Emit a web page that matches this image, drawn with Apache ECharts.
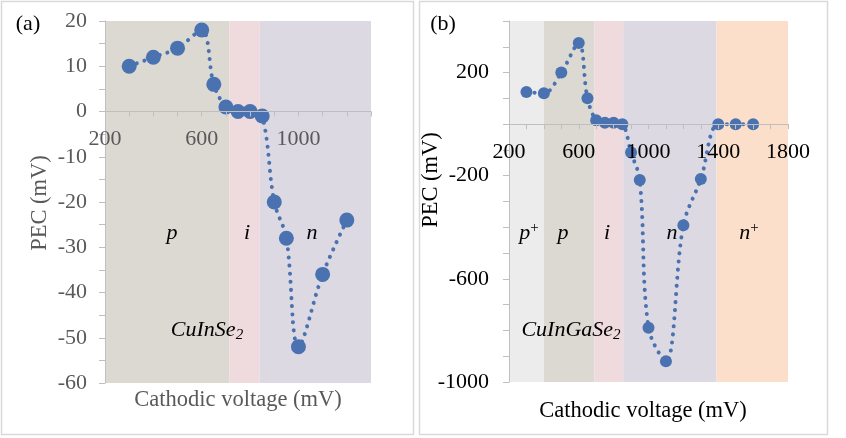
<!DOCTYPE html>
<html>
<head>
<meta charset="utf-8">
<script src="https://cdn.jsdelivr.net/npm/echarts@6/dist/echarts.min.js"></script>
<style>
  html, body { margin: 0; padding: 0; background: #fff; }
  #main { width: 846px; height: 438px; }
</style>
</head>
<body>
<div id="main"></div>
<script>
// panel (a) CuInSe2
var voltA = [300, 400, 500, 600, 650, 700, 750, 800, 850, 900, 950, 1000, 1100, 1200];
var pecA = [10, 12, 14, 18, 6, 1, 0, 0, -1, -20, -28, -52, -36, -24];
var xLabelsA = [200, 600, 1000];
var yLabelsA = [20, 10, 0, -10, -20, -30, -40, -50, -60];
var bandsA = [[200, 715, 'p'], [715, 840, 'i'], [840, 1300, 'n']];

// panel (b) CuInGaSe2
var voltB = [300, 400, 500, 600, 650, 700, 750, 800, 850, 900, 950, 1000, 1100, 1200, 1300, 1400, 1500, 1600];
var pecB = [125, 120, 200, 315, 100, 15, 5, 5, 0, -110, -217, -790, -920, -392, -213, 0, 0, 0];
var xLabelsB = [200, 600, 1000, 1400, 1800];
var yLabelsB = [200, -200, -600, -1000];
var bandsB = [[200, 400, 'p+'], [400, 690, 'p'], [690, 855, 'i'], [855, 1390, 'n'], [1390, 1800, 'n+']];

var bandColor = {
  'p+': '#ececec',
  'p': '#dcd9d3',
  'i': '#efdadd',
  'n': '#dcd9e3',
  'n+': '#fbdfca'
};

var serif = '"Liberation Serif", "DejaVu Serif", serif';
var blue = '#4a72b0';

// grid boxes
var gA = { left: 105, top: 21, width: 266, height: 362 };
var gB = { left: 509, top: 21, width: 279, height: 361 };

function bandAreas(bands) {
  return bands.map(function (b) {
    return [{ xAxis: b[0], itemStyle: { color: bandColor[b[2]] } }, { xAxis: b[1] }];
  });
}

function pairs(xs, ys) {
  return xs.map(function (x, i) { return [x, ys[i]]; });
}

// x axis sits on y = 0, moved up from the grid bottom
function zeroOffset(g, ymin, ymax) {
  return -g.height * (0 - ymin) / (ymax - ymin);
}

function mkX(idx, min, max, labels, col, off) {
  return {
    type: 'value', gridIndex: idx, min: min, max: max, interval: 100,
    position: 'bottom', offset: off, z: 10,
    axisLine: { onZero: false, lineStyle: { color: '#bfbfbf', width: 1 } },
    axisTick: { show: true, length: 5, lineStyle: { color: '#bfbfbf' } },
    splitLine: { show: false },
    axisLabel: {
      margin: 17, color: col, fontFamily: serif, fontSize: 22,
      formatter: function (v) { return labels.indexOf(v) >= 0 ? String(v) : ''; }
    }
  };
}

function mkY(idx, min, max, step, labels, col, margin) {
  return {
    type: 'value', gridIndex: idx, min: min, max: max, interval: step, z: 10,
    axisLine: { show: true, onZero: false, lineStyle: { color: '#bfbfbf', width: 1 } },
    axisTick: { show: true, length: 6, lineStyle: { color: '#bfbfbf' } },
    splitLine: { show: false },
    axisLabel: {
      margin: margin, color: col, fontFamily: serif, fontSize: 22,
      formatter: function (v) { return labels.indexOf(v) >= 0 ? String(v) : ''; }
    }
  };
}

function mkSeries(idx, data, size, bands) {
  return {
    type: 'line', xAxisIndex: idx, yAxisIndex: idx,
    data: data, smooth: 0.35,
    symbol: 'circle', symbolSize: size,
    itemStyle: { color: blue },
    lineStyle: { color: blue, width: 4, type: [0.1, 8], cap: 'round' },
    markArea: { silent: true, data: bandAreas(bands) },
    z: 3
  };
}

var rich = {
  it: { fontFamily: serif, fontStyle: 'italic', fontSize: 22, color: '#000' },
  sup: { fontFamily: serif, fontSize: 15, color: '#000', padding: [0, 0, 10, 0] },
  sub: { fontFamily: serif, fontStyle: 'italic', fontSize: 15, color: '#000', padding: [10, 0, 0, 0] }
};

function txt(x, y, s, extra) {
  var st = { text: s, x: x, y: y, align: 'center', verticalAlign: 'middle',
    fontFamily: serif, fontSize: 22, fill: '#000', rich: rich };
  for (var k in extra) st[k] = extra[k];
  return { type: 'text', style: st, z: 10 };
}

var chart = echarts.init(document.getElementById('main'));
var option = {
  backgroundColor: '#fff',
  animation: false,
  grid: [gA, gB],
  xAxis: [
    mkX(0, 200, 1300, xLabelsA, '#595959', zeroOffset(gA, -60, 20)),
    mkX(1, 200, 1800, xLabelsB, '#000', zeroOffset(gB, -1000, 400))
  ],
  yAxis: [
    mkY(0, -60, 20, 5, yLabelsA, '#595959', 18),
    mkY(1, -1000, 400, 100, yLabelsB, '#000', 20)
  ],
  series: [mkSeries(0, pairs(voltA, pecA), 15, bandsA), mkSeries(1, pairs(voltB, pecB), 12, bandsB)],
  graphic: [
    { type: 'rect', shape: { x: 1.5, y: 1.5, width: 412, height: 433 }, style: { fill: 'none', stroke: '#d9d9d9', lineWidth: 1.5 } },
    { type: 'rect', shape: { x: 419.5, y: 1.5, width: 408, height: 433 }, style: { fill: 'none', stroke: '#d9d9d9', lineWidth: 1.5 } },
    txt(28, 24, '(a)'),
    txt(443, 24, '(b)'),
    { type: 'text', x: 40, y: 203, rotation: Math.PI / 2,
      style: { text: 'PEC (mV)', align: 'center', verticalAlign: 'middle', fontFamily: serif, fontSize: 22.5, fill: '#595959' } },
    { type: 'text', x: 431, y: 180, rotation: Math.PI / 2,
      style: { text: 'PEC (mV)', align: 'center', verticalAlign: 'middle', fontFamily: serif, fontSize: 22.5, fill: '#000' } },
    txt(238, 400, 'Cathodic voltage (mV)', { fill: '#595959', fontSize: 22.5 }),
    txt(643, 411, 'Cathodic voltage (mV)', { fontSize: 22.5 }),
    txt(172, 233, '{it|p}'),
    txt(247, 233, '{it|i}'),
    txt(312, 233, '{it|n}'),
    txt(207, 330, '{it|CuInSe}{sub|2}'),
    txt(529, 233, '{it|p}{sup|+}'),
    txt(563, 233, '{it|p}'),
    txt(607, 233, '{it|i}'),
    txt(672, 233, '{it|n}'),
    txt(749, 233, '{it|n}{sup|+}'),
    txt(571, 330, '{it|CuInGaSe}{sub|2}')
  ]
};
chart.setOption(option);
</script>
</body>
</html>
